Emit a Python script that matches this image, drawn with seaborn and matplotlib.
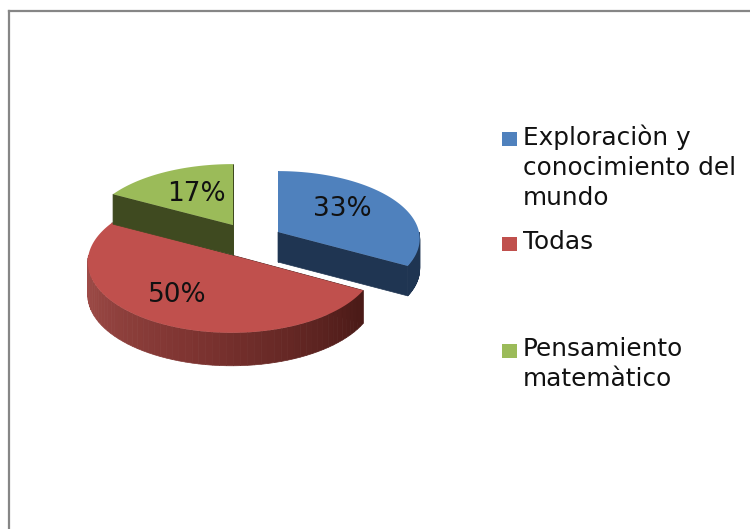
import matplotlib
matplotlib.use("Agg")
import matplotlib.pyplot as plt
from matplotlib.patches import Rectangle
import numpy as np
import seaborn as sns

categories = ["Exploraciòn y\nconocimiento del\nmundo", "Todas", "Pensamiento\nmatemàtico"]
values = [33, 50, 17]

# look of each slice, in image pixels
colors = ["#4F81BD", "#C0504D", "#9BBB59"]
cut_colors = ["#1F3552", "#4A1B18", "#3F4A20"]
wall_colors = [["#1F3552", "#1F3552"], ["#A34F4B", "#7E3431", "#4A1A17"], ["#3F4A20", "#3F4A20"]]
centers = [(278, 232), (231.5, 255), (233, 225)]
radii = [(141, 67), (143, 70), (143.5, 67)]
depths = [30, 33, 30]
label_pos = [(342, 209), (177, 295), (196, 194)]
legend_y = [139, 244, 351]
draw_order = [2, 0, 1]
persp = 0.1


def rim(center, radius, angles):
    # back of the pie is further away, so it shrinks a bit
    w = 1 + persp * np.sin(angles)
    return (center[0] + radius[0] * np.cos(angles) / w,
            center[1] - radius[1] * np.sin(angles) / w)


sns.set_theme(style="white")
plt.rcParams["font.family"] = ["DejaVu Sans"]

fig = plt.figure(figsize=(7.5, 5.29), dpi=100)
ax = fig.add_axes([8.5 / 750, 0, 1 - 8.5 / 750, 1 - 11 / 529])
ax.set_xlim(8.5, 750)
ax.set_ylim(529, 11)
ax.set_xticks([])
ax.set_yticks([])
sns.despine(ax=ax, top=False, left=False, right=True, bottom=True)
for side in ["left", "top"]:
    ax.spines[side].set_color("#868686")
    ax.spines[side].set_linewidth(1.6)

# angles run clockwise from 12 o'clock, same as the original pie
shares = np.array(values) / sum(values) * 360
ends = 90 - np.cumsum(shares)
starts = ends + shares

for i in draw_order:
    c, r, d = centers[i], radii[i], depths[i]

    # flat cut faces
    for a in [starts[i], ends[i]]:
        x, y = rim(c, r, np.radians(a))
        ax.fill([c[0], x, x, c[0]], [c[1], y, y + d, c[1] + d], color=cut_colors[i], lw=0.5, zorder=i)

    # outer wall, only the part facing the viewer
    lo, hi = max(ends[i], -180), min(starts[i], 0)
    if hi > lo:
        n = 60
        steps = np.radians(np.linspace(lo, hi, n + 1))
        shades = sns.blend_palette(wall_colors[i], n)
        for k in range(n):
            seg = np.linspace(steps[k], steps[k + 1], 4)
            x, y = rim(c, r, seg)
            ax.fill(np.r_[x, x[::-1]], np.r_[y, y[::-1] + d], color=shades[k], lw=0.5, zorder=i)

    # top face
    t = np.radians(np.linspace(starts[i], ends[i], 120))
    x, y = rim(c, r, t)
    ax.fill(np.r_[c[0], x], np.r_[c[1], y], color=colors[i], lw=0, zorder=i)

    ax.text(label_pos[i][0], label_pos[i][1], f"{values[i]}%", fontsize=19, color="#111111",
            ha="center", va="center", zorder=5)

for i, name in enumerate(categories):
    ax.add_patch(Rectangle((502, legend_y[i] - 7), 15, 14, color=colors[i], lw=0))
    ax.text(523, legend_y[i] - 14, name, fontsize=17.8, color="#111111", ha="left", va="top",
            linespacing=1.31, zorder=5)

fig.savefig("out.png", dpi=100)
